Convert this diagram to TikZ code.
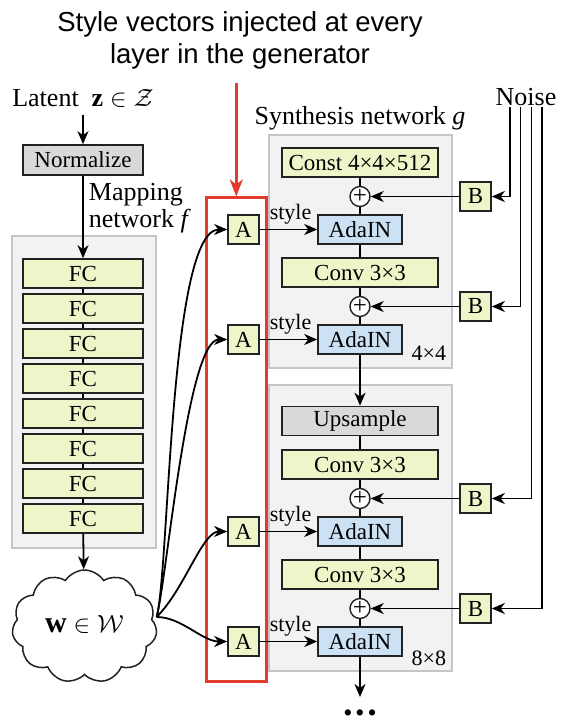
\documentclass[tikz,border=0pt]{standalone}
\usepackage{amsmath}
\usepackage{fontspec}
\setmainfont{Liberation Serif}
\newfontfamily\headsans{Liberation Sans}
\usepackage{tikz}
\usetikzlibrary{arrows.meta,shapes,positioning}
\usetikzlibrary{calc}
\usetikzlibrary{backgrounds}

\definecolor{layerfill}{HTML}{EEF6C9}
\definecolor{adainfill}{HTML}{CDE1F5}
\definecolor{opfill}{HTML}{D9D9D9}
\definecolor{groupfill}{HTML}{F2F2F2}
\definecolor{groupline}{HTML}{C6C6C6}
\definecolor{injectred}{HTML}{E33B2E}
\definecolor{edgegray}{HTML}{222222}

\newcommand{\blockfont}{\fontsize{23}{23}\selectfont}
\newcommand{\captfont}{\fontsize{26}{27}\selectfont}
\newcommand{\notefont}{\fontsize{22}{22}\selectfont}

\tikzset{
	block/.style={draw=edgegray, line width=1.6pt, inner sep=0pt, minimum height=29pt, font=\blockfont},
	convbox/.style={block, fill=layerfill, minimum width=156pt},
	fc/.style={block, fill=layerfill, minimum width=120pt},
	opbox/.style={block, fill=opfill},
	adainbox/.style={block, fill=adainfill, minimum width=84pt},
	affine/.style={block, fill=layerfill, minimum width=31pt},
	addnode/.style={circle, draw=edgegray, fill=white, line width=1.4pt, minimum size=20pt, inner sep=0pt, font=\fontsize{25}{25}\selectfont},
	group/.style={fill=groupfill, draw=groupline, line width=1.5pt, inner sep=0pt},
	capt/.style={inner sep=0pt, font=\captfont},
	note/.style={inner sep=0pt, font=\notefont},
	stylelbl/.style={note, anchor=base east, pos=1, xshift=-5pt, yshift=10.5pt},
}

\begin{document}
\begin{tikzpicture}[x=1pt,y=-1pt,>={Stealth[length=13pt,width=11pt,inset=4pt]},line width=1.8pt,node distance=35pt]
	\useasboundingbox (0,0) rectangle (567,727);
	\node[inner sep=0pt, align=center, anchor=north, font=\headsans\fontsize{27.5}{32}\selectfont] (head) at (240,10.3) {Style vectors injected at every\\layer in the generator};

	\node[opbox, minimum width=120pt, minimum height=30pt] (norm) at (83,160) {Normalize};
	\node[capt, anchor=base] (latent) at (83,107) {Latent~~$\mathbf{z}\in\mathcal{Z}$};
	\node[capt, align=left, anchor=north west] (maplbl) at (88,182) {Mapping\\network $\mathit{f}$};
	\node[fc] (fc1) at (83,273.5) {FC};
	\node[fc] (fc2) [below of=fc1] {FC};
	\node[fc] (fc3) [below of=fc2] {FC};
	\node[fc] (fc4) [below of=fc3] {FC};
	\node[fc] (fc5) [below of=fc4] {FC};
	\node[fc] (fc6) [below of=fc5] {FC};
	\node[fc] (fc7) [below of=fc6] {FC};
	\node[fc] (fc8) [below of=fc7] {FC};
	\node[cloud, cloud puffs=11, cloud puff arc=115, cloud ignores aspect, draw=edgegray, fill=white, line width=1.5pt, minimum width=145pt, minimum height=113pt, inner sep=0pt, font=\fontsize{30}{30}\selectfont] (w) at (84.5,626.5) {\raisebox{5pt}{$\mathbf{w}\in\mathcal{W}$}};
	\coordinate (wout) at ([yshift=9.5pt]w.east);

	\node[capt, anchor=base] (synlbl) at (360,125) {Synthesis network $\mathit{g}$};
	\node[convbox] (const) at (360,162.5) {Const 4×4×512};
	\node[addnode] (add1) [below of=const, node distance=34pt] {+};
	\node[adainbox] (adain1) [below of=add1, node distance=33pt] {AdaIN};
	\node[convbox] (conv1) [below of=adain1, node distance=43pt] {Conv 3×3};
	\node[addnode] (add2) [below of=conv1, node distance=34pt] {+};
	\node[adainbox] (adain2) [below of=add2, node distance=33pt] {AdaIN};
	\node[note, anchor=base east] (res4) at (447,360) {4×4};
	\node[opbox, minimum width=156pt] (upsample) [below of=adain2, node distance=81.5pt] {Upsample};
	\node[convbox] (conv2) [below of=upsample, node distance=43.5pt] {Conv 3×3};
	\node[addnode] (add3) [below of=conv2, node distance=34pt] {+};
	\node[adainbox] (adain3) [below of=add3, node distance=33pt] {AdaIN};
	\node[convbox] (conv3) [below of=adain3, node distance=43pt] {Conv 3×3};
	\node[addnode] (add4) [below of=conv3, node distance=34pt] {+};
	\node[adainbox] (adain4) [below of=add4, node distance=33pt] {AdaIN};
	\node[note, anchor=base east] (res8) at (447,665) {8×8};
	\node[note, font=\fontsize{26}{26}\selectfont] (more) at (360,716) {\textbullet\hspace{3pt}\textbullet\hspace{3pt}\textbullet};
	\coordinate (moretip) at ([yshift=19pt]more.center);

	\node[affine] (a1) [left of=adain1, node distance=116.5pt] {A};
	\node[affine] (a2) [left of=adain2, node distance=116.5pt] {A};
	\node[affine] (a3) [left of=adain3, node distance=116.5pt] {A};
	\node[affine] (a4) [left of=adain4, node distance=116.5pt] {A};
	\node[affine] (b1) [right of=add1, node distance=115.5pt] {B};
	\node[affine] (b2) [right of=add2, node distance=115.5pt] {B};
	\node[affine] (b3) [right of=add3, node distance=115.5pt] {B};
	\node[affine] (b4) [right of=add4, node distance=115.5pt] {B};
	\node[capt, anchor=base] (noise) at (526,106) {Noise};

	\node[draw=injectred, line width=3pt, minimum width=59.5pt, minimum height=483pt, inner sep=0pt] (inject) at (236.25,439.5) {};
	\coordinate (injtop) at ([yshift=113pt]inject.north);

	\begin{scope}[on background layer]
		\node[group, minimum width=144pt, minimum height=312pt] (mapnet) at (84,392) {};
		\node[group, minimum width=183pt, minimum height=233pt] (block4) at (360.5,251.5) {};
		\node[group, minimum width=183pt, minimum height=286pt] (block8) at (360.5,528) {};
	\end{scope}

	\draw (fc1) -- (fc2) -- (fc3) -- (fc4) -- (fc5) -- (fc6) -- (fc7) -- (fc8);
	\draw (const) -- (add1) -- (adain1) -- (conv1) -- (add2) -- (adain2);
	\draw (upsample) -- (conv2) -- (add3) -- (adain3) -- (conv3) -- (add4) -- (adain4);
	\draw[->] ([xshift=-16pt]noise.south) |- (b1);
	\draw[->] ([xshift=-5.5pt]noise.south) |- (b2);
	\draw[->] ([xshift=5.5pt]noise.south) |- (b3);
	\draw[->] ([xshift=16pt]noise.south) |- (b4);
	\draw[->, injectred, line width=3pt, >={Stealth[length=17pt,width=13pt,inset=5pt]}] (injtop) -- (inject.north);
	\path[->]
		(latent) edge[shorten <=6pt] (norm)
		(norm) edge (fc1)
		(fc8) edge (w)
		(adain2) edge (upsample)
		(adain4) edge (moretip)
		(b1) edge (add1)
		(b2) edge (add2)
		(b3) edge (add3)
		(b4) edge (add4)
		(a1) edge node[stylelbl] {style} (adain1)
		(a2) edge node[stylelbl] {style} (adain2)
		(a3) edge node[stylelbl] {style} (adain3)
		(a4) edge node[stylelbl] {style} (adain4)
		(wout) edge[out=75, in=180, out distance=50pt, in distance=58pt] (a1)
		(wout) edge[out=75, in=180, out distance=40pt, in distance=40pt] (a2)
		(wout) edge[out=45, in=180, out distance=40pt, in distance=25pt] (a3)
		(wout) edge[out=0, in=180, out distance=25pt, in distance=25pt] (a4);
\end{tikzpicture}
\end{document}
